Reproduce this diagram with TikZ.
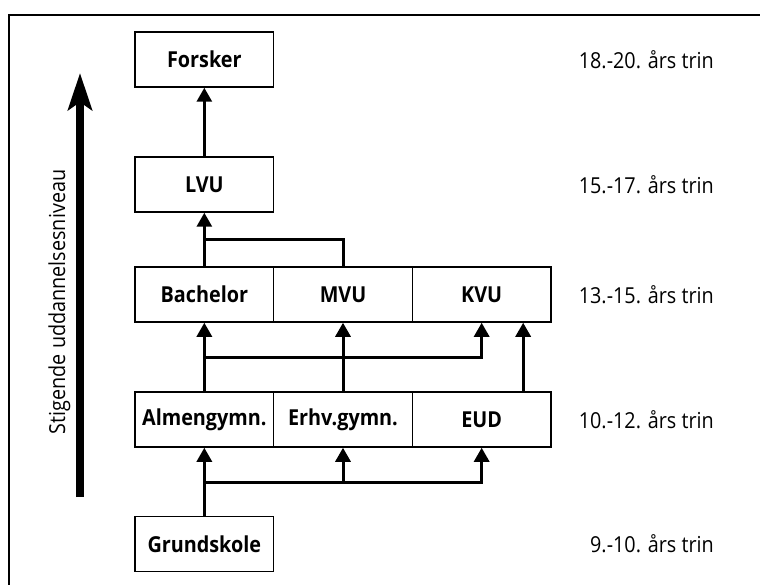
\documentclass[tikz,border=0pt]{standalone}
\usepackage{fontspec}
\setmainfont{Open Sans}[FakeStretch=0.9]
\usetikzlibrary{arrows.meta}
\begin{document}
\begin{tikzpicture}[x=1pt,y=-1pt,
  box/.style={draw, line width=1.5pt, minimum width=138.7pt, minimum height=55pt, inner sep=0pt, font=\fontsize{22}{26}\selectfont\bfseries},
  lvl/.style={anchor=east, inner sep=0pt, font=\fontsize{22}{26}\selectfont},
  arr/.style={line width=3pt, -{Triangle[length=14pt,width=15pt]}},
  conn/.style={line width=3pt}]
\useasboundingbox (0,0) rectangle (760,585);
\fill[white] (0,0) rectangle (760,585);
\draw[line width=2pt] (9,600) |- (780,15);

\node[box] (fors) at (204.33,59.5) {Forsker};
\node[box] (lvu) at (204.33,184.5) {LVU};
\node[box] (bach) at (204.33,294.5) {Bachelor};
\node[box] (mvu) at (343,294.5) {MVU};
\node[box] (kvu) at (481.67,294.5) {KVU};
\node[box] (alm) at (204.33,419.5) {Almengymn.};
\node[box] (erhv) at (343,419.5) {Erhv.gymn.};
\node[box] (eud) at (481.67,419.5) {EUD};
\node[box] (grund) at (204.33,544) {Grundskole};

\node[lvl] (l5) at (714,59.5) {18.-20. års trin};
\node[lvl] (l4) at (714,184.5) {15.-17. års trin};
\node[lvl] (l3) at (714,294.5) {13.-15. års trin};
\node[lvl] (l2) at (714,419.5) {10.-12. års trin};
\node[lvl] (l1) at (714,544) {9.-10. års trin};

\coordinate (ab) at (80,497);
\coordinate (at) at (80,73);
\draw[line width=8pt, -{Stealth[length=37pt,width=24pt,inset=8pt]}] (ab) -- (at);
\node[rotate=90, anchor=base, inner sep=0pt, font=\fontsize{22}{26}\selectfont] (axis) at (65,302) {Stigende uddannelsesniveau};

\coordinate (j1) at (0,240);
\coordinate (j2) at (0,357);
\coordinate (j3) at (0,482);
\draw[arr] (lvu.north) -- (fors.south);
\draw[arr] (bach.north) -- (lvu.south);
\draw[conn] (mvu.north) |- (bach.north |- j1);
\draw[arr] (alm.north) -- (bach.south);
\draw[arr] (alm.north |- j2) -| (kvu.south);
\draw[arr] (erhv.north) -- (mvu.south);
\draw[arr] ([xshift=41.5pt]eud.north) -- ([xshift=41.5pt]kvu.south);
\draw[arr] (grund.north) -- (alm.south);
\draw[arr] (grund.north |- j3) -| (eud.south);
\draw[arr] (erhv.south |- j3) -- (erhv.south);
\end{tikzpicture}
\end{document}
